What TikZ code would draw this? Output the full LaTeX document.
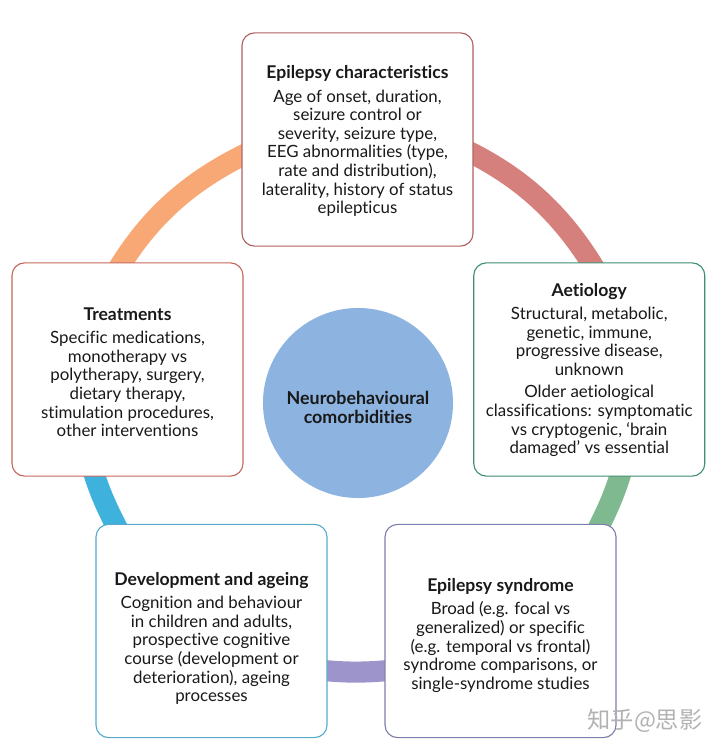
\documentclass[tikz,border=0pt]{standalone}
\usepackage{fontspec}
\setmainfont[Ligatures=NoCommon]{Lato}
\newfontfamily\cjk{Noto Sans CJK SC}
\usetikzlibrary{backgrounds}

\definecolor{ringred}{HTML}{D6807D}
\definecolor{ringgreen}{HTML}{7FB98F}
\definecolor{ringpurple}{HTML}{9C94CB}
\definecolor{ringblue}{HTML}{3FB1DD}
\definecolor{ringorange}{HTML}{F8A875}
\definecolor{edgered}{HTML}{B0605F}
\definecolor{edgegreen}{HTML}{3F8F72}
\definecolor{edgepurple}{HTML}{7C7FAB}
\definecolor{edgeblue}{HTML}{56ABCB}
\definecolor{edgeorange}{HTML}{C4685C}
\definecolor{hubblue}{HTML}{8DB3E0}

% first argument pushes the text down inside its box
\newcommand{\boxtitle}[2]{\mbox{}\\[\dimexpr#1-4pt\relax]{\fontsize{12.5}{13.25}\selectfont\bfseries #2}\\[3.4pt]}

\tikzset{
  infobox/.style={draw,fill=white,rounded corners=9pt,line width=0.8pt,
    minimum width=5.775cm,minimum height=5.33cm,inner sep=0pt,align=center,
    font=\fontsize{12}{13.25}\selectfont,text=black!90},
  ringline/.style={line width=15pt,shorten <=-10pt,shorten >=-10pt},
  hub/.style={circle,fill=hubblue,minimum size=4.75cm,inner sep=0pt,align=center,
    font=\fontsize{12.7}{13.8}\selectfont\bfseries,text=black!90}
}

\begin{document}
\begin{tikzpicture}[x=0.025cm,y=-0.025cm]
    \useasboundingbox (0,0) rectangle (720,755);

    \node[infobox,draw=edgered] (epilepsy) at (357.5,139.5) {\boxtitle{2.4pt}{Epilepsy characteristics}
        Age of onset, duration,\\seizure control or\\severity, seizure type,\\EEG abnormalities (type,\\rate and distribution),\\laterality, history of status\\epilepticus};
    \node[infobox,draw=edgegreen] (aetiology) at (589.25,369.5) {\boxtitle{0.6pt}{Aetiology}
        Structural, metabolic,\\genetic, immune,\\progressive disease,\\unknown\\[2.6pt]
        Older aetiological\\classifications: symptomatic\\vs cryptogenic, ‘brain\\damaged’ vs essential};
    \node[infobox,draw=edgepurple] (syndrome) at (500.5,631) {\boxtitle{6.2pt}{Epilepsy syndrome}
        Broad (e.g. focal vs\\generalized) or specific\\(e.g. temporal vs frontal)\\syndrome comparisons, or\\single-syndrome studies};
    \node[infobox,draw=edgeblue] (development) at (211.5,631) {\boxtitle{10.6pt}{Development and ageing}
        Cognition and behaviour\\in children and adults,\\prospective cognitive\\course (development or\\deterioration), ageing\\processes};
    \node[infobox,draw=edgeorange] (treatments) at (127.5,369.5) {\boxtitle{3.5pt}{Treatments}
        Specific medications,\\monotherapy vs\\polytherapy, surgery,\\dietary therapy,\\stimulation procedures,\\other interventions};
    \node[hub] (comorbidities) at (358,403) {\mbox{}\\[1.6pt]Neurobehavioural\\comorbidities};
    \node[text=black!30,font=\cjk\fontsize{16.5}{18}\selectfont] (watermark) at (645,721) {知乎@思影};

    \begin{scope}[on background layer]
        \draw [ringline,ringred] (epilepsy.-7.7)
            to [out=-25.4,in=120.5,looseness=0.87] (aetiology.89.1);
        \draw [ringline,ringgreen] (aetiology.-74.9)
            to [out=-106,in=63.1,looseness=0.85] (syndrome.47.3);
        \draw [ringline,ringpurple] (syndrome.199.3)
            to [out=-174,in=-6.2,looseness=0.85] (development.-19.3);
        \draw [ringline,ringblue] (development.132.4)
            to [out=116.9,in=286,looseness=0.85] (treatments.-107);
        \draw [ringline,ringorange] (treatments.93)
            to [out=59.5,in=205,looseness=0.87] (epilepsy.-172.7);
    \end{scope}
\end{tikzpicture}
\end{document}
